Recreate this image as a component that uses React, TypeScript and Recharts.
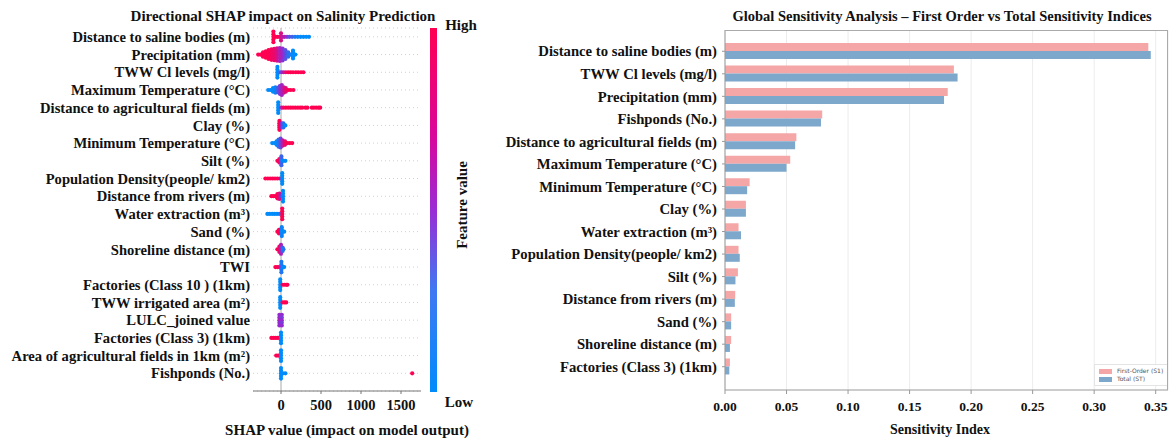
import React from 'react';
import {
  ScatterChart,
  Scatter,
  BarChart,
  Bar,
  XAxis,
  YAxis,
  CartesianGrid,
  ReferenceLine,
  Legend,
} from 'recharts';

const FONT = '"Liberation Serif", "Times New Roman", serif';

// ---- Left panel: SHAP summary (beeswarm) ----
const shapFeatures = [
  'Distance to saline bodies (m)',
  'Precipitation (mm)',
  'TWW Cl levels (mg/l)',
  'Maximum Temperature (°C)',
  'Distance to agricultural fields (m)',
  'Clay (%)',
  'Minimum Temperature (°C)',
  'Silt (%)',
  'Population Density(people/ km2)',
  'Distance from rivers (m)',
  'Water extraction (m³)',
  'Sand (%)',
  'Shoreline distance (m)',
  'TWI',
  'Factories (Class 10 ) (1km)',
  'TWW irrigated area (m²)',
  'LULC_joined value',
  'Factories (Class 3) (1km)',
  'Area of agricultural fields in 1km (m²)',
  'Fishponds (No.)',
];
const shapTicks = [0, 500, 1000, 1500];

// [shap value, feature value 0=low..1=high, swarm offset within the row]
const salinePts = [
  [-95, 1, -0.3], [-95, 1, -0.15], [-95, 1, 0], [-95, 1, 0.15], [-95, 1, 0.3],
  [-70, 1, 0], [-45, 1, 0], [-20, 0.95, 0], [0, 0.8, 0], [0, 0.8, -0.2], [0, 0.8, 0.2],
  [20, 0.7, 0], [45, 0.6, 0], [75, 0.45, 0], [105, 0.3, 0], [140, 0.2, 0], [175, 0.1, 0],
  [210, 0.05, 0], [245, 0, 0], [280, 0, 0], [315, 0, 0], [350, 0, 0],
];
const precipPts = [
  [-285, 1, 0], [-255, 1, 0], [-225, 1, 0], [-225, 1, -0.12], [-225, 1, 0.12],
  [-190, 1, 0], [-190, 1, -0.18], [-190, 1, 0.18],
  [-155, 1, 0], [-155, 1, -0.13], [-155, 1, 0.13], [-155, 1, -0.25], [-155, 1, 0.25],
  [-120, 0.95, 0], [-120, 0.95, -0.15], [-120, 0.95, 0.15], [-120, 0.95, -0.3], [-120, 0.95, 0.3],
  [-85, 0.9, 0], [-85, 0.9, -0.16], [-85, 0.9, 0.16], [-85, 0.9, -0.32], [-85, 0.9, 0.32],
  [-50, 0.8, 0], [-50, 0.8, -0.17], [-50, 0.8, 0.17], [-50, 0.8, -0.35], [-50, 0.8, 0.35],
  [-15, 0.65, 0], [-15, 0.65, -0.18], [-15, 0.65, 0.18], [-15, 0.6, -0.36], [-15, 0.6, 0.36],
  [20, 0.5, 0], [20, 0.5, -0.17], [20, 0.5, 0.17], [20, 0.45, -0.33], [20, 0.45, 0.33],
  [55, 0.35, 0], [55, 0.35, -0.13], [55, 0.35, 0.13], [55, 0.3, -0.25], [55, 0.3, 0.25],
  [90, 0.2, 0], [90, 0.15, -0.12], [90, 0.15, 0.12], [120, 0.05, 0],
  [150, 0, 0], [150, 0, -0.12], [150, 0, 0.12], [150, 0, -0.22], [150, 0, 0.22], [180, 0, 0],
];
const twwClPts = [
  [-45, 0, -0.3], [-45, 0, -0.15], [-45, 0, 0], [-45, 0, 0.15], [-45, 0, 0.3],
  [-20, 0.1, 0], [5, 0.4, 0], [30, 0.65, 0], [60, 0.85, 0], [90, 1, 0], [120, 1, 0],
  [150, 1, 0], [185, 1, 0], [215, 1, 0], [250, 1, 0], [280, 1, 0],
];
const maxTempPts = [
  [-160, 0, 0], [-130, 0, 0], [-100, 0, 0], [-100, 0, -0.1], [-100, 0, 0.1],
  [-70, 0.05, 0], [-70, 0.05, -0.15], [-70, 0.05, 0.15],
  [-40, 0.2, 0], [-40, 0.2, -0.12], [-40, 0.2, 0.12],
  [-15, 0.4, 0], [-15, 0.4, -0.12], [-15, 0.4, 0.12], [-15, 0.4, -0.22], [-15, 0.4, 0.22],
  [10, 0.55, 0], [10, 0.55, -0.14], [10, 0.55, 0.14], [10, 0.55, -0.28], [10, 0.55, 0.28],
  [35, 0.7, 0], [35, 0.7, -0.15], [35, 0.7, 0.15],
  [60, 0.85, 0], [60, 0.85, -0.1], [60, 0.85, 0.1], [90, 1, 0], [120, 1, 0], [155, 1, 0],
];
const agriDistPts = [
  [-35, 0, -0.3], [-35, 0, -0.15], [-35, 0, 0], [-35, 0, 0.15], [-35, 0, 0.3],
  [5, 0.6, 0], [30, 0.9, 0], [60, 1, 0], [90, 1, 0], [120, 1, 0], [150, 1, 0],
  [180, 1, 0], [210, 1, 0], [240, 1, 0], [265, 1, 0],
  [305, 1, 0], [330, 1, 0], [385, 1, 0], [410, 1, 0], [440, 1, 0], [470, 1, 0], [490, 1, 0],
];
const clayPts = [
  [-20, 1, -0.25], [-20, 1, -0.12], [-20, 1, 0], [-20, 1, 0.12], [-20, 1, 0.25],
  [10, 0.6, 0], [10, 0.5, -0.12], [10, 0.5, 0.12],
  [30, 0.2, 0], [30, 0.15, -0.12], [30, 0.15, 0.12], [55, 0, 0],
];
const minTempPts = [
  [-110, 0, 0], [-80, 0, 0], [-55, 0, 0], [-55, 0, -0.1], [-55, 0, 0.1],
  [-30, 0.1, 0], [-30, 0.1, -0.12], [-30, 0.1, 0.12], [-30, 0.1, -0.2], [-30, 0.1, 0.2],
  [-5, 0.35, 0], [-5, 0.35, -0.12], [-5, 0.35, 0.12], [-5, 0.35, -0.25], [-5, 0.35, 0.25],
  [20, 0.7, 0], [20, 0.7, -0.15], [20, 0.7, 0.15],
  [50, 0.9, 0], [50, 0.9, -0.1], [50, 0.9, 0.1], [80, 1, 0], [110, 1, 0], [140, 1, 0],
];
const siltPts = [
  [-45, 1, 0], [-20, 1, 0], [-20, 0.9, -0.1], [-20, 0.9, 0.1],
  [5, 0.2, -0.25], [5, 0.2, -0.12], [5, 0.1, 0], [5, 0.2, 0.12], [5, 0.2, 0.25],
  [30, 0, 0], [55, 0, 0],
];
const popDensPts = [
  [-195, 1, 0], [-165, 1, 0], [-135, 1, 0], [-105, 1, 0], [-75, 1, 0], [-45, 1, 0], [-15, 0.9, 0],
  [15, 0, -0.3], [15, 0, -0.15], [15, 0, 0], [15, 0, 0.15], [15, 0, 0.3],
];
const riverPts = [
  [-120, 1, 0], [-95, 1, 0], [-70, 1, 0], [-45, 1, 0], [-45, 1, -0.12], [-45, 1, 0.12],
  [-20, 0.8, 0], [-20, 0.8, -0.15], [-20, 0.8, 0.15], [5, 0.4, 0],
  [25, 0, -0.3], [25, 0, -0.15], [25, 0, 0], [25, 0, 0.15], [25, 0, 0.3],
];
const extractionPts = [
  [-170, 0, 0], [-140, 0, 0], [-110, 0, 0], [-80, 0, 0], [-50, 0, 0], [-20, 0.05, 0],
  [15, 1, -0.3], [15, 1, -0.15], [15, 1, 0], [15, 1, 0.15], [15, 1, 0.3],
];
const sandPts = [
  [-45, 1, 0], [-25, 1, 0], [-25, 1, -0.1], [-25, 1, 0.1],
  [10, 0.05, -0.25], [10, 0.05, -0.12], [10, 0, 0], [10, 0.05, 0.12], [10, 0.05, 0.25], [40, 0, 0],
];
const shorePts = [
  [-45, 1, 0], [-20, 0.9, -0.15], [-20, 0.9, 0.15], [-20, 0.9, 0],
  [0, 0.6, -0.25], [0, 0.6, -0.12], [0, 0.6, 0], [0, 0.6, 0.12], [0, 0.6, 0.25],
  [20, 0.2, -0.1], [20, 0.2, 0.1], [30, 0.1, 0],
];
const twiPts = [
  [-70, 1, 0], [-45, 1, 0], [-20, 0.9, 0],
  [5, 0.1, -0.3], [5, 0.1, -0.15], [5, 0.3, 0], [5, 0.1, 0.15], [5, 0.1, 0.3], [25, 0, 0], [40, 0, 0],
];
const fact10Pts = [
  [-10, 0, -0.3], [-10, 0, -0.15], [-10, 0, 0], [-10, 0, 0.15], [-10, 0, 0.3],
  [20, 1, 0], [45, 1, 0], [70, 1, 0], [80, 1, 0],
];
const twwAreaPts = [
  [-10, 0, -0.3], [-10, 0, -0.15], [-10, 0, 0], [-10, 0, 0.15], [-10, 0, 0.3],
  [20, 1, 0], [45, 1, 0], [65, 1, 0],
];
const lulcPts = [
  [-20, 0.5, -0.3], [-20, 0.5, -0.15], [-20, 0.6, 0], [-20, 0.5, 0.15], [-20, 0.5, 0.3],
  [10, 0.5, -0.3], [10, 0.4, -0.15], [10, 0.5, 0], [10, 0.4, 0.15], [10, 0.5, 0.3],
];
const fact3Pts = [
  [-120, 1, 0], [-95, 1, 0], [-70, 1, 0], [-45, 1, 0], [-20, 1, 0],
  [0, 0, -0.3], [0, 0, -0.15], [0, 0, 0], [0, 0, 0.15], [0, 0, 0.3],
];
const agriAreaPts = [
  [-60, 1, 0], [-35, 1, 0], [-15, 1, 0],
  [0, 0, -0.3], [0, 0, -0.15], [0, 0, 0], [0, 0, 0.15], [0, 0, 0.3],
];
const fishpondPts = [
  [0, 0, -0.3], [0, 0, -0.15], [0, 0, 0], [0, 0, 0.15], [0, 0, 0.3],
  [25, 0, 0], [55, 0, 0], [1640, 1, 0],
];

const swarmRows = [
  salinePts, precipPts, twwClPts, maxTempPts, agriDistPts, clayPts, minTempPts, siltPts,
  popDensPts, riverPts, extractionPts, sandPts, shorePts, twiPts, fact10Pts, twwAreaPts,
  lulcPts, fact3Pts, agriAreaPts, fishpondPts,
];

// ---- Right panel: Sobol indices ----
const gsaFeatures = [
  'Distance to saline bodies (m)',
  'TWW Cl levels (mg/l)',
  'Precipitation (mm)',
  'Fishponds (No.)',
  'Distance to agricultural fields (m)',
  'Maximum Temperature (°C)',
  'Minimum Temperature (°C)',
  'Clay (%)',
  'Water extraction (m³)',
  'Population Density(people/ km2)',
  'Silt (%)',
  'Distance from rivers (m)',
  'Sand (%)',
  'Shoreline distance (m)',
  'Factories (Class 3) (1km)',
];
const firstOrder = [0.344, 0.186, 0.181, 0.079, 0.058, 0.053, 0.02, 0.017, 0.011, 0.011, 0.0105, 0.0083, 0.005, 0.005, 0.004];
const totalOrder = [0.346, 0.189, 0.178, 0.078, 0.057, 0.05, 0.018, 0.017, 0.013, 0.012, 0.0085, 0.008, 0.005, 0.004, 0.0035];
const gsaTicks = [0, 0.05, 0.1, 0.15, 0.2, 0.25, 0.3, 0.35];

const swarmData = swarmRows.flatMap((pts, row) =>
  pts.map(([x, c, dy]) => ({ x, y: row + dy, c }))
);
const rowTicks = shapFeatures.map((_, i) => i);

const gsaData = gsaFeatures.map((name, i) => ({
  name,
  s1: firstOrder[i],
  st: totalOrder[i],
}));

// shap red_blue colormap (low -> high)
const cmap: [number, number[]][] = [
  [0, [0, 139, 251]],
  [0.5, [150, 40, 208]],
  [1, [255, 0, 82]],
];
function featureColor(c: number) {
  for (let i = 1; i < cmap.length; i++) {
    const [p1, c1] = cmap[i];
    const [p0, c0] = cmap[i - 1];
    if (c <= p1) {
      const t = (c - p0) / (p1 - p0);
      const rgb = c0.map((v, k) => Math.round(v + (c1[k] - v) * t));
      return `rgb(${rgb.join(',')})`;
    }
  }
  return 'rgb(255,0,82)';
}

const SwarmDot = (props: any) => {
  const { cx, cy, payload } = props;
  if (cx == null || cy == null) return null;
  return <circle cx={cx} cy={cy} r={2.1} fill={featureColor(payload.c)} />;
};

const boldTick = (size: number) => ({
  fill: '#111',
  fontSize: size,
  fontWeight: 'bold',
  fontFamily: FONT,
});

const label = (
  left: number,
  top: number,
  size: number,
  extra: React.CSSProperties = {}
): React.CSSProperties => ({
  position: 'absolute',
  left,
  top,
  transform: 'translate(-50%, -50%)',
  fontFamily: FONT,
  fontWeight: 'bold',
  fontSize: size,
  color: '#111',
  whiteSpace: 'nowrap',
  ...extra,
});

const GsaLegend = () => (
  <div
    style={{
      border: '1px solid #e4e4e4',
      background: '#fff',
      padding: '2px 4px',
      fontFamily: '"DejaVu Sans", sans-serif',
      fontSize: 6,
      color: '#555',
      lineHeight: '8px',
    }}
  >
    {[
      ['First-Order (S1)', '#F5A6A6'],
      ['Total (ST)', '#7DA8CB'],
    ].map(([name, color]) => (
      <div key={name} style={{ display: 'flex', alignItems: 'center' }}>
        <span style={{ display: 'inline-block', width: 13, height: 5, background: color, marginRight: 5 }} />
        {name}
      </div>
    ))}
  </div>
);

export default function App() {
  return (
    <div style={{ position: 'absolute', left: 0, top: 0, width: 1171, height: 443, background: '#fff', overflow: 'hidden' }}>
      {/* SHAP summary */}
      <div style={{ position: 'absolute', left: 0, top: 0 }}>
        <ScatterChart width={440} height={443} margin={{ top: 28, right: 19, bottom: 0, left: 0 }}>
          <CartesianGrid vertical={false} strokeDasharray="1 3" stroke="#d0d0d0" />
          <XAxis
            type="number"
            dataKey="x"
            domain={[-350, 1750]}
            ticks={shapTicks}
            allowDataOverflow
            height={52}
            axisLine={{ stroke: '#777' }}
            tickLine={{ stroke: '#777' }}
            tickSize={3}
            tickMargin={6}
            tick={boldTick(14.5)}
          />
          <YAxis
            type="number"
            dataKey="y"
            domain={[-0.5, 20]}
            reversed
            allowDataOverflow
            ticks={rowTicks}
            interval={0}
            tickFormatter={(v: number) => shapFeatures[v] ?? ''}
            width={253}
            axisLine={false}
            tickLine={false}
            tickSize={0}
            tickMargin={3}
            tick={boldTick(14.6)}
          />
          <ReferenceLine x={0} stroke="#a8a8a8" strokeWidth={1} />
          <Scatter data={swarmData} shape={SwarmDot} isAnimationActive={false} />
        </ScatterChart>
      </div>
      <div style={label(283, 16, 15)}>Directional SHAP impact on Salinity Prediction</div>
      <div style={label(347, 430, 15)}>SHAP value (impact on model output)</div>
      <div
        style={{
          position: 'absolute',
          left: 430,
          top: 28,
          width: 7,
          height: 364,
          background: 'linear-gradient(to bottom, #ff0052 0%, #d8089c 30%, #9a2cd4 50%, #3f78f2 72%, #008bfb 100%)',
        }}
      />
      <div style={label(461, 25, 15)}>High</div>
      <div style={label(459, 402, 15)}>Low</div>
      <div style={label(462, 205, 15, { transform: 'translate(-50%, -50%) rotate(-90deg)' })}>Feature value</div>

      {/* Sobol indices */}
      <div style={{ position: 'absolute', left: 480, top: 0 }}>
        <BarChart
          layout="vertical"
          width={691}
          height={443}
          data={gsaData}
          margin={{ top: 30, right: 3, bottom: 0, left: 0 }}
          barGap={0}
        >
          <CartesianGrid horizontal={false} stroke="#ececec" />
          <XAxis
            type="number"
            domain={[0, 0.36]}
            ticks={gsaTicks}
            tickFormatter={(v: number) => v.toFixed(2)}
            height={53}
            axisLine={{ stroke: '#999' }}
            tickLine={{ stroke: '#999' }}
            tickSize={4}
            tickMargin={7}
            tick={boldTick(13.5)}
          />
          <YAxis
            type="category"
            dataKey="name"
            width={245}
            padding={{ top: 10, bottom: 12 }}
            interval={0}
            axisLine={{ stroke: '#999' }}
            tickLine={{ stroke: '#999' }}
            tickSize={3}
            tickMargin={5}
            tick={boldTick(14.7)}
          />
          <Bar dataKey="s1" name="First-Order (S1)" fill="#F5A6A6" barSize={8} isAnimationActive={false} />
          <Bar dataKey="st" name="Total (ST)" fill="#7DA8CB" barSize={8} isAnimationActive={false} />
          <Legend
            layout="vertical"
            align="center"
            verticalAlign="middle"
            content={() => <GsaLegend />}
            wrapperStyle={{ left: 614, top: 364, width: 'auto' }}
          />
        </BarChart>
      </div>
      {/* top and right frame of the sensitivity plot */}
      <div style={{ position: 'absolute', left: 725, top: 30, width: 443, height: 360, borderTop: '1px solid #aaa', borderRight: '1px solid #aaa', boxSizing: 'border-box', pointerEvents: 'none' }} />
      <div style={label(942, 16, 14.5)}>Global Sensitivity Analysis – First Order vs Total Sensitivity Indices</div>
      <div style={label(940, 430, 14)}>Sensitivity Index</div>
    </div>
  );
}
